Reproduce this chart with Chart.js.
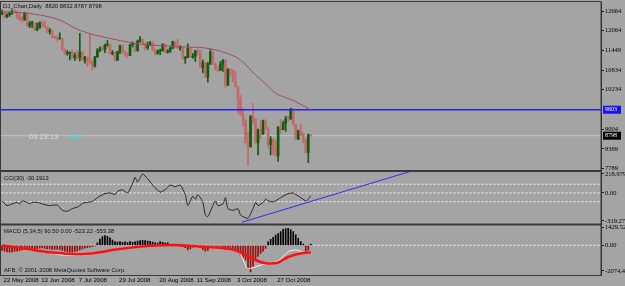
<!DOCTYPE html>
<html lang="en">
<head>
<meta charset="UTF-8">
<title>DJ_Chart, Daily</title>
<script src="https://cdnjs.cloudflare.com/ajax/libs/Chart.js/4.4.0/chart.umd.min.js"></script>
<style>
  html, body { margin: 0; padding: 0; background: #a4a4a4; }
</style>
</head>
<body>
<canvas id="chart" width="625" height="286"></canvas>
<script>
// daily bars, 22 May 2008 .. 14 Nov 2008 (index = bar number)
const opens  = [12577,12625,12479,12548,12594,12647,12638,12503,12402,12390,12604,12209,12280,12289,12083,12141,12307,12269,12160,12029,12063,11850,11842,11800,11811,11453,11346,11350,11382,11215,11288,11231,11384,11147,11229,11100,11055,10962,11239,11446,11496,11467,11602,11632,11349,11370,11131,11397,11583,11378,11326,11284,11616,11656,11432,11734,11782,11642,11532,11616,11659,11479,11348,11417,11430,11628,11386,11412,11502,11715,11543,11516,11532,11188,11220,11511,11231,11268,11433,11421,10917,11059,10609,11019,11388,11016,10854,10825,11022,11143,10365,10851,10831,10482,10325,9955,9447,9258,8579,8451,9387,9310,8577,8979,8852,9265,9033,8519,8691,8378,8175,9065,8990,9180,9325,9319,9625,9139,8695,8943,8870,8693,8282,8820];
const highs  = [12690,12630,12580,12640,12700,12710,12650,12610,12480,12620,12610,12340,12350,12310,12290,12330,12360,12340,12170,12130,12070,11900,11910,11990,11820,11510,11440,11400,11470,11370,11440,11970,11420,11260,11240,11950,11130,11260,11500,11550,11580,11640,11750,11640,11440,11380,11420,11610,11620,11440,11370,11630,11710,11660,11760,11870,11800,11680,11700,11720,11710,11480,11460,11480,11650,11640,11470,11560,11730,11720,11790,11590,11540,11260,11650,11530,11350,11440,11480,11430,11140,11070,11070,11480,11400,11050,10950,11100,11160,11150,10880,10870,10840,10800,10330,10060,9620,9300,8900,9430,9800,9330,9000,9260,9280,9300,9050,8770,8700,8650,9080,9300,9250,9400,9400,9650,9640,9150,8970,9150,8880,8700,8850,8832];
const lows   = [12550,12450,12460,12500,12560,12600,12430,12360,12320,12370,12180,12150,12150,12060,12050,12130,12180,12140,11990,11950,11830,11800,11730,11790,11440,11320,11290,11150,11200,11130,11160,11120,11130,11050,10950,11040,10830,10920,11230,11400,11430,11370,11570,11330,11300,11110,11130,11340,11360,11260,11220,11280,11550,11400,11420,11700,11620,11450,11470,11600,11440,11300,11320,11310,11420,11370,11360,11380,11500,11530,11500,11440,11170,11040,11220,11220,11200,11100,11300,10910,10750,10600,10460,11010,11000,10840,10780,10820,10790,10300,10360,10670,10460,10300,9500,9440,9090,8570,7880,8450,9180,8570,8200,8710,8840,8990,8410,8200,8200,8150,8000,8880,8980,8930,9240,9300,9130,8680,8680,8800,8580,8270,7965,8787];
const closes = [12625,12479,12548,12594,12647,12638,12503,12402,12390,12604,12209,12280,12289,12083,12141,12307,12269,12160,12029,12063,11842,11842,11807,11811,11453,11346,11350,11382,11215,11288,11231,11384,11147,11229,11100,11055,10962,11239,11446,11496,11467,11602,11632,11349,11370,11131,11397,11583,11378,11326,11284,11616,11656,11432,11734,11782,11642,11532,11616,11659,11479,11348,11417,11430,11628,11386,11412,11502,11715,11543,11516,11532,11188,11220,11511,11231,11268,11433,11421,10917,11059,10609,11019,11388,11016,10854,10825,11022,11143,10365,10851,10831,10482,10325,9955,9447,9258,8579,8451,9387,9310,8577,8979,8852,9265,9033,8519,8691,8378,8175,9065,8990,9180,9325,9319,9625,9139,8695,8943,8870,8693,8282,8835,8798];

// moving average
const maIdx = [0,7,15,23,30,37,46,52,59,66,74,81,88,95,101,105,109,113,117,123];
const maVal = [12633,12620,12540,12385,12100,11920,11765,11672,11610,11579,11548,11517,11393,11145,10680,10400,10113,9980,9853,9595];

// CCI(30)
const cciIdx = [0,2,4,6,7,8,10,11,12,14,16,19,22,24,26,28,30,31,32,34,36,38,39,41,43,45,46,48,50,52,53,54,56,58,60,61,63,65,67,69,71,73,74,76,77,78,80,81,82,84,85,86,88,89,90,92,94,95,96,98,100,101,102,104,105,106,108,110,112,114,116,117,119,121,122,123];
const cciVal = [-91,-145,-126,-108,-126,-91,-108,-126,-108,-108,-126,-145,-137,-199,-210,-180,-162,-145,-119,-108,-97,-54,-37,-8,0,-18,17,36,0,108,179,125,216,162,90,60,10,36,90,71,90,-18,-145,-37,-72,-18,-108,-253,-270,-145,-91,-145,-126,-54,-180,-199,-180,-253,-270,-290,-180,-108,-145,-108,-72,-91,-102,-72,-37,-8,0,-18,-54,-91,-72,-30];
const cciLevels = [100, 0, -100];
const trendIdx = [95.6, 162.5];
const trendVal = [-335, 245];

// MACD (5,34,5)
const macdHist = [-420,-480,-530,-560,-540,-500,-470,-430,-380,-330,-300,
  -280,-250,-300,-270,-230,-210,-260,-300,-290,-330,-310,-340,-330,-420,-480,-520,
  -540,-560,-500,-470,-380,
  -300,-240,-200,-150,-120,-40,
  200,500,700,780,720,600,420,300,260,300,250,280,230,300,250,280,350,380,400,380,350,330,260,200,180,
  300,240,180,190,
  60,-40,30,80,-60,-120,-200,
  -380,-300,
  -150,-80,-60,-200,-350,
  -480,-420,
  -150,-100,-60,-120,-80,
  -250,-330,-200,-180,
  -250,-300,-500,-750,-1000,-1200,-1900,-2150,-1700,-1250,-900,-650,-480,-250,
  290,480,650,830,950,1100,1290,1360,1380,1280,1100,840,570,300,100,-640,-400,90];
const redIdx = [0,7,19,25,32,39,46,59,68,79,91,95,100,106,110,114,119,123];
const redVal = [-16,-194,-566,-663,-728,-566,-315,-40,24,-113,-299,-566,-1108,-1471,-1390,-946,-663,-553];
const whiteIdx = [0,7,19,25,32,39,46,59,68,79,91,95,98,100,103,106,110,114,117,120,123];
const whiteVal = [-16,-180,-600,-800,-800,-600,-280,-20,40,-100,-320,-700,-1900,-1800,-1600,-1450,-1250,-520,-380,-560,-523];

// axes
const dateIdx = [0,15,30,46,62,77,93,109];
const dateLabels = ['22 May 2008','13 Jun 2008','7 Jul 2008','29 Jul 2008','20 Aug 2008','11 Sep 2008','3 Oct 2008','27 Oct 2008'];
const priceTicks = [12664,12064,11449,10834,10234,9004,8389,7789];
const cciTicks = [218.9795,100,0,-100,-319.273];
const cciTickText = ['218.9795','100','0.00','-100','-319.273'];
const macdTicks = [1429.52,0,-2074.47];
const macdTickText = ['1429.52','0.00','-2074.47'];
const levelLine = 9603;
const bidLine = 8798;

const BULL = '#0d5e0d', BEAR = '#c56868';
const pts = (xs, ys) => xs.map((x, i) => ({x: x, y: ys[i]}));
const candleColors = closes.map((c, i) => c >= opens[i] ? BULL : BEAR);
const XMIN = -0.8, XMAX = 238.6;
const hline = (v) => [{x: XMIN - 1, y: v}, {x: XMAX + 1, y: v}];

const axisFont = {family: '"Liberation Serif", serif', size: 6.5};

const panelPlugin = {
  id: 'panels',
  beforeDraw(chart) {
    const ctx = chart.ctx;
    ctx.save();
    ctx.fillStyle = '#a4a4a4';
    ctx.fillRect(0, 0, chart.width, chart.height);
    ctx.restore();
  },
  afterDraw(chart) {
    const ctx = chart.ctx;
    const a = chart.chartArea;
    const s = chart.scales;
    ctx.save();
    // frame and pane separators
    ctx.strokeStyle = '#3a3a3a';
    ctx.lineWidth = 1;
    ctx.strokeRect(0.5, a.top - 0.5, a.right - 0.5, a.bottom - a.top + 1);
    ctx.lineWidth = 2;
    [s.y.bottom, s.yc.bottom].forEach(yy => {
      ctx.beginPath(); ctx.moveTo(0, yy); ctx.lineTo(a.right, yy); ctx.stroke();
    });
    // texts
    ctx.textBaseline = 'middle';
    ctx.fillStyle = '#101010';
    ctx.font = '5.8px "Liberation Sans", sans-serif';
    ctx.fillText('DJ_Chart,Daily  8820 8832 8787 8798', 3, 6);
    ctx.fillText('CCI(30) -30.1913', 4, s.yc.top + 7);
    ctx.fillText('MACD (5,34,5) 90.50 0.00 -523.22 -553.38', 4, s.ym.top + 7);
    ctx.fillText('AFB, \u00a9 2001-2008 MetaQuotes Software Corp.', 4, s.ym.bottom - 5);
    ctx.font = '7.5px "Liberation Sans", sans-serif';
    ctx.fillStyle = '#dedede';
    ctx.fillText('03:23:13', 29, s.y.getPixelForValue(bidLine) + 1);
    ctx.fillStyle = '#36e6e6';
    ctx.fillText('Bar', 70, s.y.getPixelForValue(bidLine) + 1);
    // price boxes on axis
    ctx.font = '6px "Liberation Serif", serif';
    [[levelLine, '#1414f0'], [bidLine, '#000000']].forEach(([v, c]) => {
      const yy = s.y.getPixelForValue(v);
      ctx.fillStyle = c;
      ctx.fillRect(a.right + 2, yy - 4, 18, 8);
      ctx.fillStyle = '#ffffff';
      ctx.fillText(String(v), a.right + 4, yy);
    });
    ctx.restore();
  }
};

new Chart(document.getElementById('chart'), {
  type: 'bar',
  data: {
    datasets: [
      {type: 'line', label: 'MACD signal', data: pts(redIdx, redVal), yAxisID: 'ym',
       borderColor: '#ff1010', borderWidth: 2.5, pointRadius: 0, cubicInterpolationMode: 'monotone', order: 1},
      {type: 'line', label: 'MACD main', data: pts(whiteIdx, whiteVal), yAxisID: 'ym',
       borderColor: '#f2f2f2', borderWidth: 1, pointRadius: 0, cubicInterpolationMode: 'monotone', order: 2},
      {label: 'MACD hist', data: macdHist.map((v, i) => ({x: i, y: v})), yAxisID: 'ym',
       backgroundColor: macdHist.map(v => v >= 0 ? '#000000' : '#990e0e'), barThickness: 1, grouped: false, order: 3},
      {type: 'line', label: 'macd level', data: hline(0), yAxisID: 'ym',
       borderColor: '#f4f4f4', borderWidth: 1, borderDash: [2, 2], pointRadius: 0, order: 6},
      {type: 'line', label: 'CCI trend', data: pts(trendIdx, trendVal), yAxisID: 'yc',
       borderColor: '#2f2ff2', borderWidth: 1, pointRadius: 0, order: 1},
      {type: 'line', label: 'CCI', data: pts(cciIdx, cciVal), yAxisID: 'yc',
       borderColor: '#262626', borderWidth: 1, pointRadius: 0, tension: 0.2, order: 2},
      ...cciLevels.map(v => ({type: 'line', label: 'cci level', data: hline(v), yAxisID: 'yc',
       borderColor: '#f4f4f4', borderWidth: 1, borderDash: [2, 2], pointRadius: 0, order: 6})),
      {type: 'line', label: 'MA', data: pts(maIdx, maVal), yAxisID: 'y',
       borderColor: '#a24a68', borderWidth: 1, pointRadius: 0, cubicInterpolationMode: 'monotone', order: 2},
      {type: 'line', label: 'level', data: hline(levelLine), yAxisID: 'y',
       borderColor: '#2020f0', borderWidth: 1.5, pointRadius: 0, order: 3},
      {label: 'bodies', data: opens.map((o, i) => ({x: i, y: [o, closes[i]]})), yAxisID: 'y',
       backgroundColor: candleColors, barThickness: 2, minBarLength: 1, grouped: false, order: 4},
      {label: 'wicks', data: lows.map((l, i) => ({x: i, y: [l, highs[i]]})), yAxisID: 'y',
       backgroundColor: candleColors, barThickness: 1, grouped: false, order: 5},
      {type: 'line', label: 'bid', data: hline(bidLine), yAxisID: 'y',
       borderColor: '#c4c4c4', borderWidth: 1, pointRadius: 0, order: 7}
    ]
  },
  options: {
    responsive: false,
    animation: false,
    events: [],
    layout: {padding: {top: 2, left: 0, right: 0, bottom: 0}},
    plugins: {legend: {display: false}, tooltip: {enabled: false}},
    scales: {
      x: {
        type: 'linear', min: XMIN, max: XMAX, position: 'bottom', offset: false,
        grid: {drawOnChartArea: false, drawTicks: false, offset: false},
        border: {display: false},
        afterBuildTicks: sc => { sc.ticks = dateIdx.map(v => ({value: v})); },
        afterFit: sc => { sc.height = 11; sc.paddingLeft = 0; sc.paddingRight = 0; },
        ticks: {
          autoSkip: false, maxRotation: 0, align: 'start', padding: 2, labelOffset: 1.5, color: '#000',
          font: {family: '"Liberation Sans", sans-serif', size: 6.1},
          callback: v => dateLabels[dateIdx.indexOf(v)]
        }
      },
      y: {
        type: 'linear', position: 'right', stack: 'panes', stackWeight: 169,
        min: 7704, max: 12943,
        afterBuildTicks: sc => { sc.ticks = priceTicks.map(v => ({value: v})); },
        afterFit: sc => { sc.width = 24; sc.paddingTop = 0; sc.paddingBottom = 0; },
        grid: {drawOnChartArea: false, tickLength: 3, color: '#202020'},
        border: {color: '#303030'},
        ticks: {padding: 1, color: '#000', font: axisFont, callback: v => String(v)}
      },
      yc: {
        type: 'linear', position: 'right', stack: 'panes', stackWeight: 53.5,
        min: -361, max: 251,
        afterBuildTicks: sc => { sc.ticks = cciTicks.map(v => ({value: v})); },
        afterFit: sc => { sc.width = 24; sc.paddingTop = 0; sc.paddingBottom = 0; },
        grid: {drawOnChartArea: false, tickLength: 3, color: '#202020'},
        border: {color: '#303030'},
        ticks: {padding: 1, color: '#000', font: axisFont, callback: v => cciTickText[cciTicks.indexOf(v)]}
      },
      ym: {
        type: 'linear', position: 'right', stack: 'panes', stackWeight: 50.5,
        min: -2401, max: 1682,
        afterBuildTicks: sc => { sc.ticks = macdTicks.map(v => ({value: v})); },
        afterFit: sc => { sc.width = 24; sc.paddingTop = 0; sc.paddingBottom = 0; },
        grid: {drawOnChartArea: false, tickLength: 3, color: '#202020'},
        border: {color: '#303030'},
        ticks: {padding: 1, color: '#000', font: axisFont, callback: v => macdTickText[macdTicks.indexOf(v)]}
      }
    }
  },
  plugins: [panelPlugin]
});
</script>
</body>
</html>
